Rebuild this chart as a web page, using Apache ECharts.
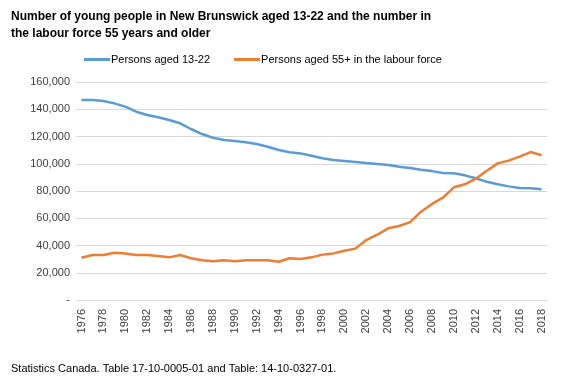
<!DOCTYPE html>
<html><head><meta charset="utf-8">
<script src="https://cdn.jsdelivr.net/npm/echarts@6/dist/echarts.min.js"></script>
<style>html,body{margin:0;padding:0;background:#fff}#c{width:564px;height:389px}</style>
</head><body><div id="c"></div>
<script>
const years = [];
for (let y = 1976; y <= 2018; y++) years.push(String(y));
const youth = [146800,146800,146000,144300,141900,138200,135800,134100,132100,129700,125500,121800,119100,117400,116700,115700,114500,112500,110100,108400,107600,105900,104000,102700,102000,101300,100500,99800,99100,97800,96900,95600,94600,93200,93000,91500,89300,86800,84900,83400,82200,82000,81200];
const older = [31000,33000,33000,34700,34200,33000,33000,32300,31300,33000,30600,29100,28400,29100,28400,29100,29100,29100,28100,30600,30100,31300,33300,34200,36200,37700,44000,47900,52600,54300,57200,64800,70500,75100,82700,84900,89000,94900,100300,102300,105200,108600,106200];
const seriesNames = ['Persons aged 13-22','Persons aged 55+ in the labour force'];
const titleText = 'Number of young people in New Brunswick aged 13-22 and the number in\nthe labour force 55 years and older';
const sourceText = 'Statistics Canada. Table 17-10-0005-01 and Table: 14-10-0327-01.';

const chart = echarts.init(document.getElementById('c'));
const font = 'Liberation Sans, Arial, sans-serif';
chart.setOption({
  animation: false,
  textStyle: {fontFamily: font},
  title: [{
    text: titleText, left: 6, top: 3,
    textStyle: {fontSize: 12, fontWeight: 'bold', color: '#000', lineHeight: 17, fontFamily: font}
  },{
    text: sourceText, left: 6, top: 358,
    textStyle: {fontSize: 11, fontWeight: 'normal', color: '#000', fontFamily: font}
  }],
  legend: {
    left: 79, top: 49, itemWidth: 26, itemHeight: 3, itemGap: 24,
    icon: 'rect',
    textStyle: {fontSize: 11, color: '#000', fontFamily: font, padding: [0,0,0,-4]},
    data: seriesNames
  },
  grid: {left: 76, right: 17, top: 82, bottom: 89},
  xAxis: {
    type: 'category', data: years, boundaryGap: true,
    axisLine: {lineStyle: {color: '#d9d9d9'}},
    axisTick: {show: false},
    axisLabel: {interval: 1, rotate: 90, fontSize: 11, color: '#404040', margin: 9}
  },
  yAxis: {
    type: 'value', min: 0, max: 160000, interval: 20000,
    axisLine: {show: false}, axisTick: {show: false},
    splitLine: {lineStyle: {color: '#d9d9d9'}},
    axisLabel: {fontSize: 11, color: '#404040', margin: 6,
      formatter: v => v === 0 ? '-' : v.toLocaleString('en-US')}
  },
  series: [
    {name: seriesNames[0], type: 'line', data: youth, symbol: 'none', smooth: false,
     lineStyle: {width: 2.5, color: '#5b9bd5'}, itemStyle: {color: '#5b9bd5'}},
    {name: seriesNames[1], type: 'line', data: older, symbol: 'none', smooth: false,
     lineStyle: {width: 2.5, color: '#ed7d31'}, itemStyle: {color: '#ed7d31'}}
  ]
});
</script></body></html>
